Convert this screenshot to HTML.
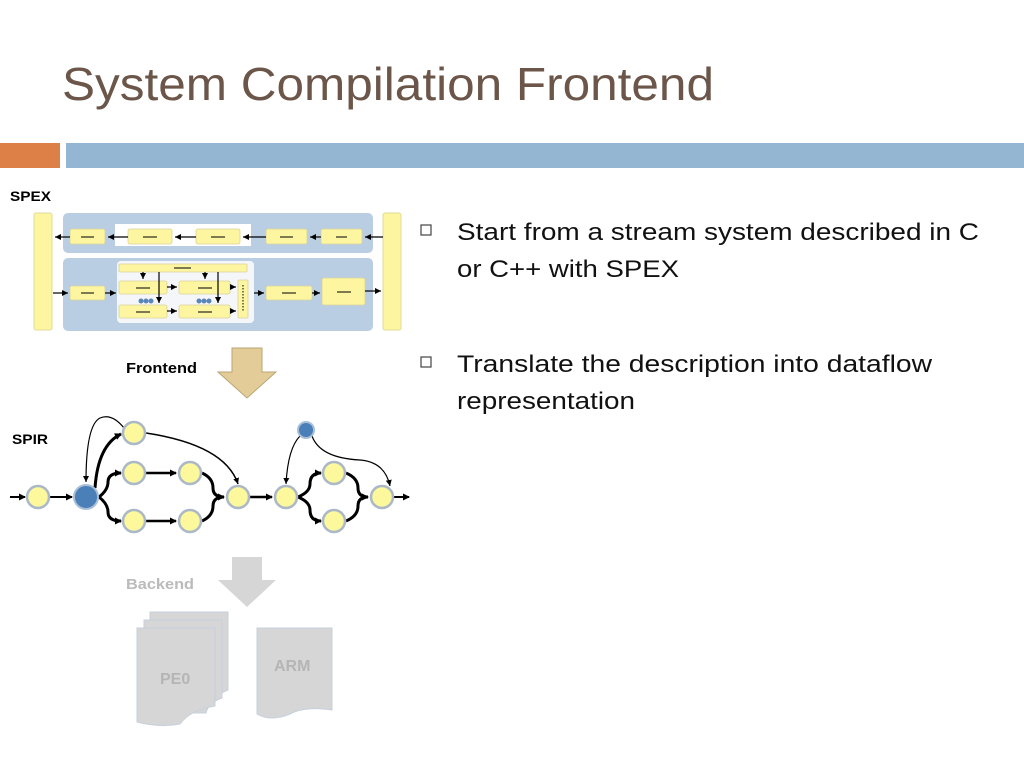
<!DOCTYPE html>
<html><head><meta charset="utf-8"><style>
html,body{margin:0;padding:0;background:#fff;}
svg{display:block;}
</style></head><body>
<svg width="1024" height="768" viewBox="0 0 1024 768" xmlns="http://www.w3.org/2000/svg" font-family="Liberation Sans, sans-serif">
<defs>
<marker id="ah" markerWidth="8" markerHeight="8" refX="6" refY="4" orient="auto" markerUnits="userSpaceOnUse"><path d="M0,0.5 L7,4 L0,7.5 z" fill="#000"/></marker>
<marker id="ahs" markerWidth="8" markerHeight="8" refX="6" refY="3" orient="auto" markerUnits="userSpaceOnUse"><path d="M0,0 L6,3 L0,6 z" fill="#000"/></marker>
</defs>
<rect width="1024" height="768" fill="#fff"/>
<text x="62" y="100" font-size="46" fill="#6b5649" textLength="652" lengthAdjust="spacingAndGlyphs">System Compilation Frontend</text>
<rect x="0" y="143" width="60" height="25" fill="#dd8047"/>
<rect x="66" y="143" width="958" height="25" fill="#94b6d2"/>

<!-- bullets -->
<rect x="421" y="225" width="10" height="10" fill="none" stroke="#444" stroke-width="1.2"/>
<text x="457" y="240" font-size="24" fill="#111" textLength="522" lengthAdjust="spacingAndGlyphs">Start from a stream system described in C</text>
<text x="457" y="277" font-size="24" fill="#111" textLength="222" lengthAdjust="spacingAndGlyphs">or C++ with SPEX</text>
<rect x="421" y="357" width="10" height="10" fill="none" stroke="#444" stroke-width="1.2"/>
<text x="457" y="372" font-size="24" fill="#111" textLength="475" lengthAdjust="spacingAndGlyphs">Translate the description into dataflow</text>
<text x="457" y="409" font-size="24" fill="#111" textLength="178" lengthAdjust="spacingAndGlyphs">representation</text>

<!-- SPEX -->
<text x="10" y="201" font-size="14" font-weight="bold" textLength="41" lengthAdjust="spacingAndGlyphs">SPEX</text>
<g>
<rect x="63" y="213" width="310" height="40" rx="5" fill="#b9cde3"/>
<rect x="63" y="258" width="310" height="73" rx="5" fill="#b9cde3"/>
<rect x="115" y="224" width="136" height="22" fill="#fff"/>
<rect x="117" y="261" width="137" height="62" rx="4" fill="#f4f6f9"/>
<rect x="34" y="213" width="18" height="117" rx="2" fill="#fdf5a0" stroke="#e0dc9a"/>
<rect x="383" y="213" width="18" height="117" rx="2" fill="#fdf5a0" stroke="#e0dc9a"/>
<g fill="#fdf5a0" stroke="#d9d49a" stroke-width="0.8">
<rect x="70" y="229" width="35" height="15" rx="2"/>
<rect x="128" y="229" width="44" height="15" rx="2"/>
<rect x="196" y="229" width="44" height="15" rx="2"/>
<rect x="266" y="229" width="41" height="15" rx="2"/>
<rect x="321" y="229" width="41" height="15" rx="2"/>
<rect x="70" y="286" width="35" height="14" rx="2"/>
<rect x="119" y="264" width="128" height="8" rx="1"/>
<rect x="119" y="281" width="48" height="13" rx="2"/>
<rect x="179" y="281" width="51" height="13" rx="2"/>
<rect x="119" y="305" width="48" height="13" rx="2"/>
<rect x="179" y="305" width="51" height="13" rx="2"/>
<rect x="238" y="280" width="10" height="38" rx="1"/>
<rect x="266" y="286" width="46" height="14" rx="2"/>
<rect x="322" y="278" width="43" height="27" rx="2"/>
</g>
<g stroke="#000" stroke-width="1.2" fill="none" marker-end="url(#ahs)">
<line x1="70" y1="237" x2="55" y2="237"/>
<line x1="128" y1="237" x2="108" y2="237"/>
<line x1="196" y1="237" x2="175" y2="237"/>
<line x1="266" y1="237" x2="243" y2="237"/>
<line x1="321" y1="237" x2="310" y2="237"/>
<line x1="383" y1="237" x2="365" y2="237"/>
<line x1="53" y1="293" x2="68" y2="293"/>
<line x1="105" y1="293" x2="116" y2="293"/>
<line x1="167" y1="287" x2="177" y2="287"/>
<line x1="230" y1="287" x2="236" y2="287"/>
<line x1="167" y1="311" x2="177" y2="311"/>
<line x1="230" y1="311" x2="236" y2="311"/>
<line x1="254" y1="293" x2="264" y2="293"/>
<line x1="312" y1="293" x2="320" y2="293"/>
<line x1="365" y1="291" x2="381" y2="291"/>
<line x1="143" y1="272" x2="143" y2="279"/>
<line x1="205" y1="272" x2="205" y2="279"/>
<line x1="159" y1="272" x2="159" y2="303"/>
<line x1="218" y1="272" x2="218" y2="303"/>
</g>
<g stroke="#000" stroke-width="1">
<line x1="81" y1="237" x2="94" y2="237"/><line x1="143" y1="237" x2="157" y2="237"/><line x1="211" y1="237" x2="225" y2="237"/><line x1="280" y1="237" x2="293" y2="237"/><line x1="336" y1="237" x2="347" y2="237"/>
<line x1="81" y1="293" x2="94" y2="293"/><line x1="136" y1="288" x2="150" y2="288"/><line x1="198" y1="288" x2="212" y2="288"/><line x1="136" y1="312" x2="150" y2="312"/><line x1="198" y1="312" x2="212" y2="312"/><line x1="282" y1="293" x2="296" y2="293"/><line x1="337" y1="292" x2="351" y2="292"/><line x1="174" y1="268" x2="191" y2="268"/>
<line x1="243" y1="285" x2="243" y2="312" stroke-dasharray="1.5,1.5"/>
</g>
<g fill="#5b86b8"><circle cx="141" cy="301" r="2.5"/><circle cx="146" cy="301" r="2.5"/><circle cx="151" cy="301" r="2.5"/><circle cx="199" cy="301" r="2.5"/><circle cx="204" cy="301" r="2.5"/><circle cx="209" cy="301" r="2.5"/></g>
</g>

<!-- Frontend arrow -->
<text x="126" y="373" font-size="15" font-weight="bold" textLength="71" lengthAdjust="spacingAndGlyphs">Frontend</text>
<path d="M232,348 L262,348 L262,372 L276,372 L247,398 L218,372 L232,372 Z" fill="#e3cc98" stroke="#b9a676" stroke-width="1"/>

<!-- SPIR -->
<text x="12" y="444" font-size="14" font-weight="bold" textLength="36" lengthAdjust="spacingAndGlyphs">SPIR</text>
<g stroke="#000" fill="none">
<line x1="10" y1="497" x2="25" y2="497" stroke-width="2" marker-end="url(#ah)"/>
<line x1="50" y1="497" x2="72" y2="497" stroke-width="2" marker-end="url(#ah)"/>
<path d="M95,488 Q98,445 121,434" stroke-width="3" marker-end="url(#ah)"/>
<path d="M124,428 Q112,413 100,418 Q86,425 86,482" stroke-width="1.2" marker-end="url(#ahs)"/>
<path d="M99,497 Q108,490 108,482 Q108,473 121,473" stroke-width="3" marker-end="url(#ah)"/>
<path d="M99,497 Q108,504 108,512 Q108,521 121,521" stroke-width="3" marker-end="url(#ah)"/>
<line x1="146" y1="473" x2="176" y2="473" stroke-width="2.5" marker-end="url(#ah)"/>
<line x1="146" y1="521" x2="176" y2="521" stroke-width="2.5" marker-end="url(#ah)"/>
<path d="M202,473 Q213,478 213,488 Q213,497 224,497" stroke-width="3"/>
<path d="M202,521 Q213,516 213,506 Q213,497 224,497" stroke-width="3" marker-end="url(#ah)"/>
<path d="M146,433 Q225,445 238,484" stroke-width="1.5" marker-end="url(#ahs)"/>
<line x1="250" y1="497" x2="272" y2="497" stroke-width="2.5" marker-end="url(#ah)"/>
<path d="M300,436 Q288,448 286,484" stroke-width="1.2" marker-end="url(#ahs)"/>
<path d="M312,436 Q320,458 360,460 Q385,462 390,486" stroke-width="1.2" marker-end="url(#ahs)"/>
<path d="M298,497 Q310,492 310,484 Q310,473 321,473" stroke-width="3" marker-end="url(#ah)"/>
<path d="M298,497 Q310,502 310,510 Q310,521 321,521" stroke-width="3" marker-end="url(#ah)"/>
<path d="M346,473 Q358,478 358,488 Q358,497 368,497" stroke-width="3"/>
<path d="M346,521 Q358,516 358,506 Q358,497 368,497" stroke-width="3" marker-end="url(#ah)"/>
<line x1="394" y1="497" x2="409" y2="497" stroke-width="2" marker-end="url(#ah)"/>
</g>
<g fill="#fdf89c" stroke="#aab8c8" stroke-width="2.5">
<circle cx="38" cy="497" r="11"/><circle cx="134" cy="433" r="11"/><circle cx="134" cy="473" r="11"/><circle cx="190" cy="473" r="11"/><circle cx="134" cy="521" r="11"/><circle cx="190" cy="521" r="11"/><circle cx="238" cy="497" r="11"/><circle cx="286" cy="497" r="11"/><circle cx="334" cy="473" r="11"/><circle cx="334" cy="521" r="11"/><circle cx="382" cy="497" r="11"/>
</g>
<circle cx="86" cy="497" r="12" fill="#4a7fb8" stroke="#a9bfd8" stroke-width="2"/>
<circle cx="306" cy="430" r="8" fill="#4a7fb8" stroke="#a9bfd8" stroke-width="2"/>

<!-- Backend -->
<text x="126" y="589" font-size="15" font-weight="bold" fill="#bbb" textLength="68" lengthAdjust="spacingAndGlyphs">Backend</text>
<path d="M262,557 L262,580 L276,580 L247,607 L218,580 L232,580 L232,557 Z" fill="#d6d6d6"/>
<g fill="#d6d6d6" stroke="#c7d0dc" stroke-width="1">
<path d="M150,612 L228,612 L228,690 Q215,695 213,705 L150,705 Z"/>
<path d="M144,620 L222,620 L222,698 Q208,703 206,713 L144,713 Z"/>
<path d="M137,628 L215,628 L215,706 Q190,710 180,724 Q160,728 137,722 Z"/>
<path d="M257,628 L332,628 L332,710 Q305,706 290,714 Q270,722 257,714 Z"/>
</g>
<text x="160" y="684" font-size="16" font-weight="bold" fill="#b5b5b5">PE0</text>
<text x="274" y="671" font-size="16" font-weight="bold" fill="#b5b5b5">ARM</text>
</svg>
</body></html>
